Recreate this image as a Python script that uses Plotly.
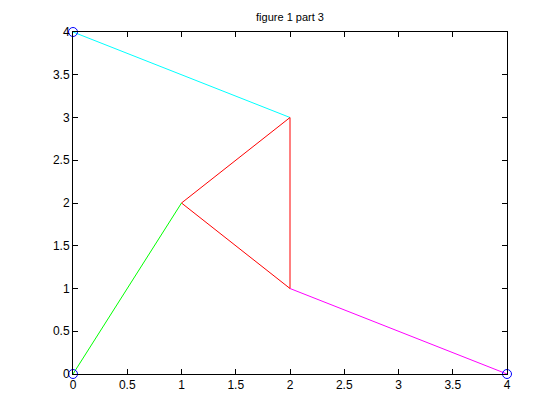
import plotly.graph_objects as go

# segments of the figure, grouped by colour
cyan_x = [0, 2]
cyan_y = [4, 3]
red_x = [1, 2, 2, 1]
red_y = [2, 3, 1, 2]
green_x = [0, 1]
green_y = [0, 2]
magenta_x = [2, 4]
magenta_y = [1, 0]

# support points drawn as open circles
pts_x = [0, 0, 4]
pts_y = [4, 0, 0]

tick_vals = [0, 0.5, 1, 1.5, 2, 2.5, 3, 3.5, 4]
tick_text = ["0", "0.5", "1", "1.5", "2", "2.5", "3", "3.5", "4"]

fig = go.Figure()
for xs, ys, col in [
    (cyan_x, cyan_y, "#00ffff"),
    (red_x, red_y, "#ff0000"),
    (green_x, green_y, "#00ff00"),
    (magenta_x, magenta_y, "#ff00ff"),
]:
    fig.add_trace(go.Scatter(x=xs, y=ys, mode="lines",
                             line=dict(color=col, width=1),
                             cliponaxis=False, hoverinfo="skip"))

fig.add_trace(go.Scatter(x=pts_x, y=pts_y, mode="markers",
                         marker=dict(symbol="circle-open", size=9,
                                     color="#0000ff", line=dict(width=1)),
                         cliponaxis=False))

axis = dict(range=[0, 4], tickvals=tick_vals, ticktext=tick_text,
            ticks="inside", ticklen=5, tickcolor="black", tickwidth=1,
            showline=True, linecolor="black", linewidth=1, mirror="ticks",
            showgrid=False, zeroline=False,
            tickfont=dict(family="Liberation Sans, Arial", size=12, color="black"))

# the page adds an 8px body margin, so everything is pulled up/left by 8px
fig.update_layout(
    width=560, height=420,
    margin=dict(l=65, r=61, t=24, b=54),
    paper_bgcolor="white", plot_bgcolor="white",
    showlegend=False,
    title=dict(text="figure 1 part 3", x=(290 - 8) / 560, xanchor="center",
               y=1 - 9 / 420, yanchor="middle",
               font=dict(family="Liberation Sans, Arial", size=11, color="black")),
    xaxis=axis, yaxis=axis,
)

fig.write_html("out.html")
